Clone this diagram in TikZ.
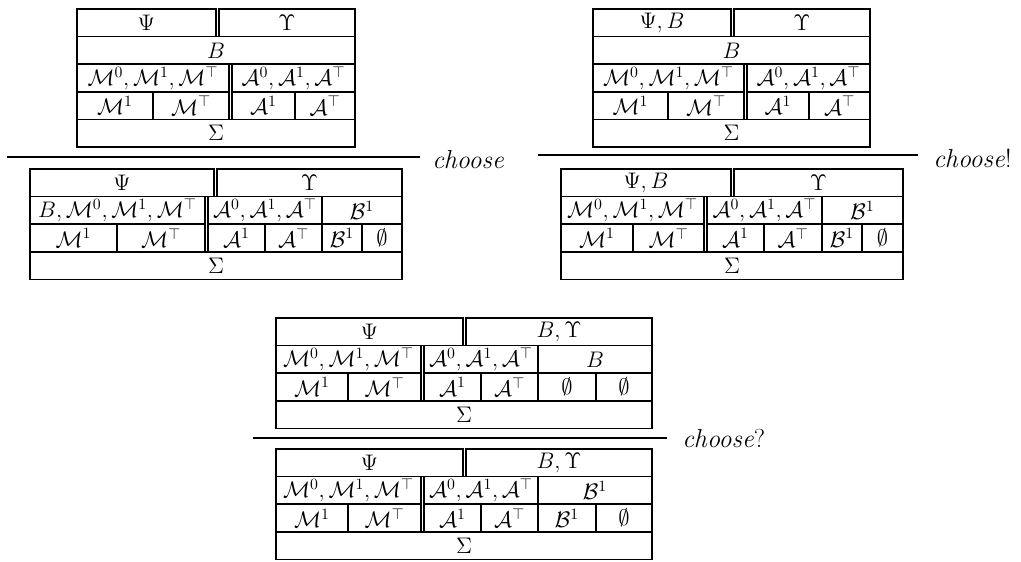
\RequirePackage{fix-cm}
\documentclass[tikz,border=0pt]{standalone}
\usepackage{amsmath, amssymb}
\tikzset{
  cell/.style={rectangle, draw, line width=1.1pt, inner sep=0pt,
               minimum height=0.69cm, font=\fontsize{16}{19}\selectfont},
  rulebar/.style={line width=1.8pt},
  rulelabel/.style={anchor=base west, inner sep=0pt, font=\fontsize{18.5}{22}\selectfont},
}
\newcommand{\Mset}{\mathcal{M}^0,\mathcal{M}^1,\mathcal{M}^\top}
\newcommand{\Aset}{\mathcal{A}^0,\mathcal{A}^1,\mathcal{A}^\top}

\begin{document}
\begin{tikzpicture}
  \useasboundingbox (0,0) rectangle (25.525,-14.025);
  % Top left table
  \node[cell, minimum width=3.475cm] (tlPsi)  at (3.6625,-0.57) {$\Psi$};
  \node[cell, minimum width=3.4cm]   (tlUps)  at (7.175,-0.57)  {$\Upsilon$};
  \node[cell, minimum width=6.95cm]  (tlB)    at (5.4,-1.26)    {$B$};
  \node[cell, minimum width=3.8cm]   (tlM)    at (3.825,-1.95)  {$\Mset$};
  \node[cell, minimum width=3.075cm] (tlA)    at (7.3375,-1.95) {$\Aset$};
  \node[cell, minimum width=1.9cm]   (tlMone) at (2.875,-2.64)  {$\mathcal{M}^1$};
  \node[cell, minimum width=1.9cm]   (tlMtop) at (4.775,-2.64)  {$\mathcal{M}^\top$};
  \node[cell, minimum width=1.575cm] (tlAone) at (6.5875,-2.64) {$\mathcal{A}^1$};
  \node[cell, minimum width=1.5cm]   (tlAtop) at (8.125,-2.64)  {$\mathcal{A}^\top$};
  \node[cell, minimum width=6.95cm]  (tlSig)  at (5.4,-3.33)    {$\Sigma$};
  % Top right table
  \node[cell, minimum width=3.45cm]  (trPsi)  at (16.55,-0.57)   {$\Psi, B$};
  \node[cell, minimum width=3.4cm]   (trUps)  at (20.05,-0.57)   {$\Upsilon$};
  \node[cell, minimum width=6.925cm] (trB)    at (18.2875,-1.26) {$B$};
  \node[cell, minimum width=3.775cm] (trM)    at (16.7125,-1.95) {$\Mset$};
  \node[cell, minimum width=3.075cm] (trA)    at (20.2125,-1.95) {$\Aset$};
  \node[cell, minimum width=1.875cm] (trMone) at (15.7625,-2.64) {$\mathcal{M}^1$};
  \node[cell, minimum width=1.9cm]   (trMtop) at (17.65,-2.64)   {$\mathcal{M}^\top$};
  \node[cell, minimum width=1.55cm]  (trAone) at (19.45,-2.64)   {$\mathcal{A}^1$};
  \node[cell, minimum width=1.525cm] (trAtop) at (20.9875,-2.64) {$\mathcal{A}^\top$};
  \node[cell, minimum width=6.925cm] (trSig)  at (18.2875,-3.33) {$\Sigma$};
  % Rules
  \coordinate (ruleA) at (0.175,-3.925);
  \coordinate (ruleAend) at (10.5,-3.925);
  \draw[rulebar] (ruleA) -- (ruleAend);
  \node[rulelabel] (chooseA) at (10.8,-4.2) {\textit{choose}};
  \coordinate (ruleB) at (13.45,-3.875);
  \coordinate (ruleBend) at (22.95,-3.875);
  \draw[rulebar] (ruleB) -- (ruleBend);
  \node[rulelabel] (chooseB) at (23.325,-4.175) {\textit{choose}!};
  % Bottom left table
  \node[cell, minimum width=4.6cm]   (blPsi)  at (3.05,-4.57)   {$\Psi$};
  \node[cell, minimum width=4.625cm] (blUps)  at (7.7375,-4.57) {$\Upsilon$};
  \node[cell, minimum width=4.375cm] (blM)    at (2.9375,-5.26) {$B,\Mset$};
  \node[cell, minimum width=2.85cm]  (blA)    at (6.625,-5.26)  {$\Aset$};
  \node[cell, minimum width=2.0cm]   (blBB)   at (9.05,-5.26)   {$\mathcal{B}^1$};
  \node[cell, minimum width=2.175cm] (blMone) at (1.8375,-5.95) {$\mathcal{M}^1$};
  \node[cell, minimum width=2.2cm]   (blMtop) at (4.025,-5.95)  {$\mathcal{M}^\top$};
  \node[cell, minimum width=1.425cm] (blAone) at (5.9125,-5.95) {$\mathcal{A}^1$};
  \node[cell, minimum width=1.425cm] (blAtop) at (7.3375,-5.95) {$\mathcal{A}^\top$};
  \node[cell, minimum width=1.0cm]   (blBone) at (8.55,-5.95)   {$\mathcal{B}^1$};
  \node[cell, minimum width=1.0cm]   (blNil)  at (9.55,-5.95)   {$\emptyset$};
  \node[cell, minimum width=9.3cm]   (blSig)  at (5.4,-6.64)    {$\Sigma$};
  % Bottom right table
  \node[cell, minimum width=4.25cm]  (brPsi)  at (16.15,-4.57)   {$\Psi, B$};
  \node[cell, minimum width=4.225cm] (brUps)  at (20.4625,-4.57) {$\Upsilon$};
  \node[cell, minimum width=3.575cm] (brM)    at (15.8125,-5.26) {$\Mset$};
  \node[cell, minimum width=2.875cm] (brA)    at (19.1125,-5.26) {$\Aset$};
  \node[cell, minimum width=2.025cm] (brBB)   at (21.5625,-5.26) {$\mathcal{B}^1$};
  \node[cell, minimum width=1.8cm]   (brMone) at (14.925,-5.95)  {$\mathcal{M}^1$};
  \node[cell, minimum width=1.775cm] (brMtop) at (16.7125,-5.95) {$\mathcal{M}^\top$};
  \node[cell, minimum width=1.425cm] (brAone) at (18.3875,-5.95) {$\mathcal{A}^1$};
  \node[cell, minimum width=1.45cm]  (brAtop) at (19.825,-5.95)  {$\mathcal{A}^\top$};
  \node[cell, minimum width=1.0cm]   (brBone) at (21.05,-5.95)   {$\mathcal{B}^1$};
  \node[cell, minimum width=1.025cm] (brNil)  at (22.0625,-5.95) {$\emptyset$};
  \node[cell, minimum width=8.55cm]  (brSig)  at (18.3,-6.64)    {$\Sigma$};
  % Centre upper table
  \node[cell, minimum width=4.675cm] (cuPsi)  at (9.2375,-8.295)  {$\Psi$};
  \node[cell, minimum width=4.65cm]  (cuUps)  at (13.975,-8.295)  {$B, \Upsilon$};
  \node[cell, minimum width=3.625cm] (cuM)    at (8.7125,-8.985)  {$\Mset$};
  \node[cell, minimum width=2.85cm]  (cuA)    at (12.025,-8.985)  {$\Aset$};
  \node[cell, minimum width=2.85cm]  (cuB)    at (14.875,-8.985)  {$B$};
  \node[cell, minimum width=1.8cm]   (cuMone) at (7.8,-9.675)     {$\mathcal{M}^1$};
  \node[cell, minimum width=1.825cm] (cuMtop) at (9.6125,-9.675)  {$\mathcal{M}^\top$};
  \node[cell, minimum width=1.425cm] (cuAone) at (11.3125,-9.675) {$\mathcal{A}^1$};
  \node[cell, minimum width=1.425cm] (cuAtop) at (12.7375,-9.675) {$\mathcal{A}^\top$};
  \node[cell, minimum width=1.45cm]  (cuNilA) at (14.175,-9.675)  {$\emptyset$};
  \node[cell, minimum width=1.4cm]   (cuNilB) at (15.6,-9.675)    {$\emptyset$};
  \node[cell, minimum width=9.4cm]   (cuSig)  at (11.6,-10.365)   {$\Sigma$};
  % Rule
  \coordinate (ruleC) at (6.325,-10.95);
  \coordinate (ruleCend) at (16.675,-10.95);
  \draw[rulebar] (ruleC) -- (ruleCend);
  \node[rulelabel] (chooseC) at (17.05,-11.175) {\textit{choose}?};
  % Centre lower table
  \node[cell, minimum width=4.675cm] (clPsi)  at (9.2375,-11.57)  {$\Psi$};
  \node[cell, minimum width=4.65cm]  (clUps)  at (13.975,-11.57)  {$B, \Upsilon$};
  \node[cell, minimum width=3.625cm] (clM)    at (8.7125,-12.26)  {$\Mset$};
  \node[cell, minimum width=2.85cm]  (clA)    at (12.025,-12.26)  {$\Aset$};
  \node[cell, minimum width=2.85cm]  (clBB)   at (14.875,-12.26)  {$\mathcal{B}^1$};
  \node[cell, minimum width=1.8cm]   (clMone) at (7.8,-12.95)     {$\mathcal{M}^1$};
  \node[cell, minimum width=1.825cm] (clMtop) at (9.6125,-12.95)  {$\mathcal{M}^\top$};
  \node[cell, minimum width=1.425cm] (clAone) at (11.3125,-12.95) {$\mathcal{A}^1$};
  \node[cell, minimum width=1.425cm] (clAtop) at (12.7375,-12.95) {$\mathcal{A}^\top$};
  \node[cell, minimum width=1.45cm]  (clBone) at (14.175,-12.95)  {$\mathcal{B}^1$};
  \node[cell, minimum width=1.4cm]   (clNil)  at (15.6,-12.95)    {$\emptyset$};
  \node[cell, minimum width=9.4cm]   (clSig)  at (11.6,-13.64)    {$\Sigma$};
\end{tikzpicture}
\end{document}
